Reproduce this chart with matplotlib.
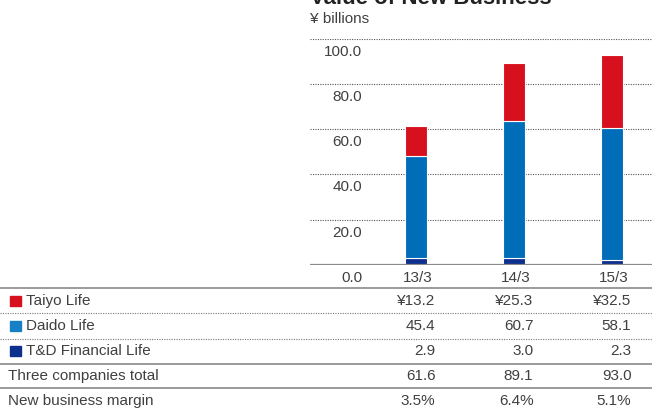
import matplotlib.pyplot as plt
import matplotlib.transforms as mtransforms
from matplotlib.patches import Rectangle
from matplotlib.lines import Line2D

plt.rcParams['font.family'] = ['Liberation Sans', 'DejaVu Sans']

# data
years = ['13/3', '14/3', '15/3']
taiyo = [13.2, 25.3, 32.5]
daido = [45.4, 60.7, 58.1]
td_fin = [2.9, 3.0, 2.3]
total = [61.6, 89.1, 93.0]
margin = ['3.5%', '6.4%', '5.1%']
y_ticks = [0, 20, 40, 60, 80, 100]

c_taiyo = '#d7101e'
c_daido = '#006db8'
c_td = '#0d2f8e'
txt = '#404040'

W, H = 652, 410
fig = plt.figure(figsize=(W / 100, H / 100), dpi=100)


def fx(px):
    return px / W


def fy(py):
    return 1 - py / H


# bar chart area
ax = fig.add_axes([fx(310), fy(266), fx(652) - fx(310), fy(39.5) - fy(266)])
ax.set_ylim(0, 100)
ax.set_xlim(-1.08, 2.41)
ax.axis('off')

x = range(len(years))
bw = 0.225
ax.bar(x, td_fin, bw, color=c_td, edgecolor='white', linewidth=0.8, zorder=3)
ax.bar(x, daido, bw, bottom=td_fin, color=c_daido, edgecolor='white', linewidth=0.8, zorder=3)
bottoms = [a + b for a, b in zip(td_fin, daido)]
ax.bar(x, taiyo, bw, bottom=bottoms, color=c_taiyo, edgecolor='white', linewidth=0.8, zorder=3)

# gridlines and y labels
for v in y_ticks:
    if v > 0:
        ax.axhline(v, color='#555555', lw=0.8, ls=(0, (1, 1.2)), zorder=1)
    ax.text(0.153, v - 5.3, f'{v:.1f}', transform=ax.get_yaxis_transform(),
            ha='right', va='center', fontsize=11, color=txt)
ax.axhline(0, color='#8a8a8a', lw=1.6, zorder=4)

# title (cut off at the top edge, as in the original)
fig.text(fx(310), fy(4), 'Value of New Business', fontsize=16, weight='bold',
         color='#222222', va='baseline')
fig.text(fx(310), fy(19), '¥ billions', fontsize=11, color=txt, va='center')

# table
tr = mtransforms.blended_transform_factory(ax.transData, fig.transFigure)
for i, yr in enumerate(years):
    ax.text(i + 0.02, fy(278), yr, transform=tr, ha='center', va='center',
            fontsize=11, color=txt)

row_y = [301.5, 326.5, 351.5, 376.5, 401.5]
labels = ['Taiyo Life', 'Daido Life', 'T&D Financial Life',
          'Three companies total', 'New business margin']
rows = [['¥' + f'{v:.1f}' for v in taiyo],
        [f'{v:.1f}' for v in daido],
        [f'{v:.1f}' for v in td_fin],
        [f'{v:.1f}' for v in total],
        margin]
swatches = [c_taiyo, '#1a80c6', c_td, None, None]

for ry, lab, vals, sw in zip(row_y, labels, rows, swatches):
    lx = 8
    if sw:
        fig.patches.append(Rectangle((fx(10), fy(ry + 5)), fx(11), 10 / H,
                                     transform=fig.transFigure, color=sw))
        lx = 25.5
    fig.text(fx(lx), fy(ry), lab, fontsize=11, color=txt, va='center')
    for i, v in enumerate(vals):
        ax.text(i + 0.2, fy(ry), v, transform=tr, ha='right', va='center',
                fontsize=11, color=txt)

# table rules
for ly, style in [(288.5, '-'), (314, ':'), (339.5, ':'), (364.5, '-'), (389, '-')]:
    if style == '-':
        fig.add_artist(Line2D([0, 1], [fy(ly), fy(ly)], color='#8a8a8a', lw=1.2,
                              transform=fig.transFigure))
    else:
        fig.add_artist(Line2D([0, 1], [fy(ly), fy(ly)], color='#777777', lw=0.8,
                              ls=(0, (1, 1.2)), transform=fig.transFigure))

fig.savefig('out.png', dpi=100)
